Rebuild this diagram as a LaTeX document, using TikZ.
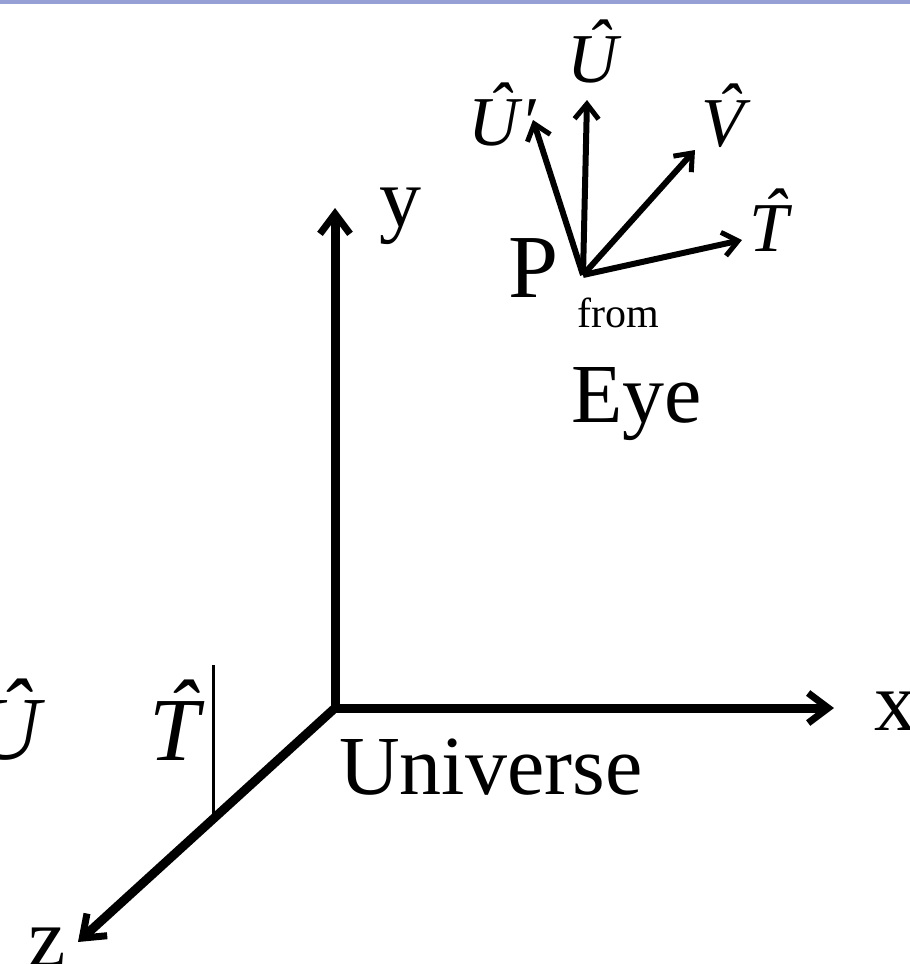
\documentclass[tikz,border=0pt]{standalone}
\usepackage{fontspec}
\setmainfont{Liberation Serif}
\usetikzlibrary{arrows.meta,calc}
\newcommand{\ihat}[1]{\setbox0=\hbox{\itshape #1}\hbox{\rlap{\hbox to\wd0{\hss\kern0.14em\raisebox{0.2em}{\itshape\char"02C6}\hss}}\box0}}
\definecolor{topbar}{RGB}{150,160,212}
\tikzset{
  axis/.style={line width=9pt, line join=miter, -{Straight Barb[length=20pt,width=30pt,line width=7pt]}},
  eyevec/.style={line width=6pt, -{Straight Barb[length=15pt,width=24pt,line width=5pt]}},
  thin/.style={line width=3pt},
  big/.style={inner sep=0pt, font=\fontsize{84}{90}\selectfont},
  mid/.style={inner sep=0pt, font=\fontsize{70}{74}\selectfont},
  small/.style={inner sep=0pt, font=\fontsize{42}{46}\selectfont},
}
\begin{document}
\begin{tikzpicture}[x=1pt,y=-1pt]
\useasboundingbox[fill=white] (0,0) rectangle (910,964);
\fill[topbar] (0,0) rectangle (910,4);
% universe axes
\coordinate (O) at (335,708);
\coordinate (Y) at (335,208);
\coordinate (X) at (834,708);
\coordinate (Z) at (78,942);
\draw[axis] (O) -- (Y);
\draw[axis] (O) -- (X);
\draw[axis] (O) -- (Z);
\node[big] (ylab) at (400,216) {y};
\node[big] (xlab) at (895,711) {x};
\node[big] (zlab) at (47,947) {z};
\node[big, anchor=base west] (univ) at (339,794) {Universe};
% thin line and labels at lower left
\coordinate (ttop) at (213,665);
\coordinate (tbot) at ($(O)!0.478!(Z)$);
\draw[thin] (ttop) -- (ttop |- tbot);
\node[big, font=\fontsize{90}{94}\selectfont] (tlab) at (175,720) {\ihat{T}};
\node[big, font=\fontsize{90}{94}\selectfont] (ulab) at (8,720) {\ihat{U}};
% eye frame
\coordinate (P) at (583,275);
\coordinate (Up) at (533,120);
\coordinate (Uh) at (587,100);
\coordinate (Vh) at (695,150);
\coordinate (Th) at (742,240);
\draw[eyevec] (P) -- (Up);
\draw[eyevec] (P) -- (Uh);
\draw[eyevec] (P) -- (Vh);
\draw[eyevec] (P) -- (Th);
\node[mid] (uplab) at (503,115) {\ihat{U}\kern0.02em\textit{\char"2032}};
\node[mid] (uhlab) at (593,52) {\ihat{U}};
\node[mid] (vhlab) at (723,116) {\ihat{V}};
\node[mid] (thlab) at (769,220) {\ihat{T}};
\node[big, font=\fontsize{90}{94}\selectfont, anchor=base west] (plab) at (508,297) {P};
\node[small, anchor=base west] (from) at (577,327) {from};
\node[big, anchor=base west] (eye) at (571,422) {Eye};
\end{tikzpicture}
\end{document}
